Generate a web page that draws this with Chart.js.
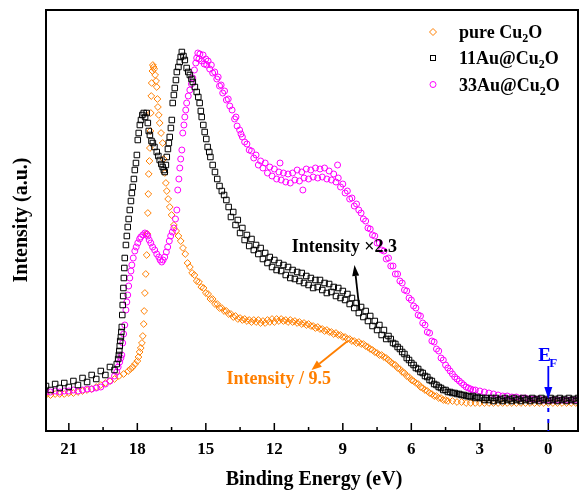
<!DOCTYPE html>
<html lang="en">
<head>
    <meta charset="UTF-8">
    <title>UPS valence band spectra</title>
    <script src="https://cdn.jsdelivr.net/npm/chart.js"></script>
    <style>
        body { margin: 0; background: #fff; overflow: hidden; }
    </style>
</head>
<body>
    <canvas id="upsChart" width="579" height="495"></canvas>
    <script>
        // binding energy (eV), intensity (a.u.)
        const pureCu2O = [
            [22.0,36],[21.8,36],[21.6,37],[21.4,37],[21.2,37],[21.0,38],[20.8,38],[20.6,39],[20.4,40],[20.2,41],
            [20.0,42],[19.8,44],[19.6,46],[19.4,48],[19.2,50],[19.0,52],[18.8,55],[18.6,57],[18.4,60],[18.3,62],
            [18.2,64],[18.1,67],[18.0,70],[17.95,74],[17.9,79],[17.85,83],[17.8,88],[17.76,95],[17.72,107],[17.70,120],
            [17.67,138],[17.63,157],[17.59,176],[17.56,197],[17.54,218],[17.52,237],[17.50,257],[17.47,270],[17.45,283],[17.43,300],
            [17.41,318],[17.39,335],[17.37,348],[17.34,360],[17.32,366],[17.29,364],[17.26,362],[17.22,356],[17.18,350],[17.15,344],
            [17.12,332],[17.10,324],[17.06,316],[17.02,308],[16.96,298],[16.89,288],[16.85,272],[16.80,258],[16.75,248],[16.71,240],
            [16.65,232],[16.58,224],[16.50,216],[16.4,206],[16.3,200],[16.2,195],[16.1,190],
            [16.0,183],[15.9,177],[15.8,168],[15.7,164],[15.6,158],[15.5,156],[15.4,150],[15.3,149],[15.2,144],[15.1,143],
            [15.0,138],[14.9,137],[14.8,132],[14.7,132],[14.6,127],[14.5,127],[14.4,123],[14.3,123],[14.2,120],[14.1,120],
            [14.0,117],[13.9,117],[13.8,114],[13.7,115],[13.6,112],[13.5,113],[13.4,111],[13.3,112],[13.2,110],[13.1,111],
            [13.0,109],[12.9,111],[12.8,109],[12.7,111],[12.6,108],[12.5,110],[12.4,108],[12.3,111],[12.2,109],[12.1,112],
            [12.0,109],[11.9,112],[11.8,110],[11.7,112],[11.6,110],[11.5,111],[11.4,109],[11.3,111],[11.2,109],[11.1,110],
            [11.0,108],[10.9,109],[10.8,107],[10.7,108],[10.6,106],[10.5,107],[10.4,105],[10.3,105],[10.2,103],[10.1,104],
            [10.0,102],[9.9,102],[9.8,100],[9.7,101],[9.6,99],[9.5,99],[9.4,97],[9.3,98],[9.2,96],[9.1,96],
            [9.0,94],[8.9,94],[8.8,92],[8.7,92],[8.6,90],[8.5,90],[8.4,88],[8.3,89],[8.2,87],[8.1,87],
            [8.0,85],[7.9,84],[7.8,82],[7.7,81],[7.6,79],[7.5,78],[7.4,76],[7.3,76],[7.2,74],[7.1,73],
            [7.0,71],[6.9,69],[6.8,67],[6.7,66],[6.6,63],[6.5,62],[6.4,59],[6.3,58],[6.2,55],[6.1,54],
            [6.0,51],[5.9,50],[5.8,48],[5.7,47],[5.6,44],[5.5,43],[5.4,41],[5.3,40],[5.2,38],[5.1,37],
            [5.0,35],[4.9,35],[4.8,33],[4.7,33],[4.6,31],[4.5,31],[4.4,30],[4.2,30],[4.0,29],[3.8,29],
            [3.6,28],[3.4,28],[3.2,28],[3.0,28],[2.8,28],[2.6,28],[2.4,28],[2.2,28],[2.0,28],[1.8,28],
            [1.6,28],[1.4,28],[1.2,28],[1.0,28],[0.8,28],[0.6,28],[0.4,28],[0.2,28],[0.0,28],[-0.2,28],
            [-0.4,28],[-0.6,28],[-0.8,28],[-1.0,28],[-1.2,28]
        ];

        const au11Cu2O = [
            [22.0,45],[21.8,41],[21.6,47],[21.4,43],[21.2,48],[21.0,44],[20.8,50],[20.6,46],[20.4,53],[20.2,49],
            [20.0,56],[19.8,52],[19.6,60],[19.4,56],[19.2,64],[19.0,61],[18.9,67],[18.84,72],[18.81,76],[18.79,80],
            [18.77,85],[18.75,90],[18.72,94],[18.70,99],[18.68,104],[18.66,116],[18.64,126],[18.62,135],[18.61,143],[18.59,153],
            [18.57,163],[18.55,173],[18.50,186],[18.46,195],[18.42,204],[18.38,212],[18.33,221],[18.28,230],[18.24,238],[18.20,244],
            [18.15,252],[18.11,261],[18.06,268],[18.02,276],[17.98,291],[17.94,298],[17.89,306],[17.84,311],[17.78,316],[17.72,318],
            [17.66,314],[17.59,318],[17.54,308],[17.50,300],[17.45,296],[17.38,290],[17.32,288],[17.25,284],[17.15,279],[17.08,275],
            [17.02,271],[16.95,267],[16.89,264],[16.84,261],[16.80,259],[16.75,266],[16.71,274],[16.66,282],[16.62,288],[16.58,294],
            [16.53,303],[16.49,311],[16.45,328],[16.40,336],[16.36,343],[16.31,351],[16.27,359],[16.20,364],[16.14,369],[16.10,374],
            [16.05,379],[15.98,375],[15.92,371],[15.84,363],[15.77,359],[15.70,356],[15.63,352],[15.57,349],[15.48,344],[15.40,339],
            [15.33,334],[15.27,328],[15.22,320],[15.18,314],[15.11,306],[15.05,299],[14.98,292],[14.92,284],[14.85,279],[14.8,274],
            [14.7,266],[14.6,259],[14.5,252],[14.4,245],[14.3,240],[14.2,236],[14.1,231],
            [14.0,224],[13.9,214],[13.8,219],[13.7,206],[13.6,211],[13.5,198],[13.4,203],[13.3,191],[13.2,196],[13.1,185],
            [13.0,192],[12.9,181],[12.8,186],[12.7,177],[12.6,183],[12.5,172],[12.4,178],[12.3,168],[12.2,174],[12.1,164],
            [12.0,171],[11.9,161],[11.8,168],[11.7,160],[11.6,166],[11.5,156],[11.4,164],[11.3,153],[11.2,161],[11.1,152],
            [11.0,159],[10.9,150],[10.8,158],[10.7,148],[10.6,155],[10.5,146],[10.4,153],[10.3,143],[10.2,151],[10.1,144],
            [10.0,151],[9.9,141],[9.8,148],[9.7,138],[9.6,147],[9.5,139],[9.4,144],[9.3,135],[9.2,143],[9.1,133],
            [9.0,140],[8.9,131],[8.8,137],[8.7,127],[8.6,133],[8.5,123],[8.4,128],[8.3,118],[8.2,124],[8.1,114],
            [8.0,120],[7.9,110],[7.8,115],[7.7,105],[7.6,110],[7.5,101],[7.4,106],[7.3,96],[7.2,101],[7.1,92],
            [7.0,95],[6.9,92],[6.8,88],[6.7,87],[6.6,84],[6.5,82],[6.4,79],[6.3,77],[6.2,73],[6.1,71],
            [6.0,68],[5.9,66],[5.8,63],[5.7,62],[5.6,59],[5.5,58],[5.4,55],[5.3,54],[5.2,51],[5.1,50],
            [5.0,47],[4.9,46],[4.8,44],[4.7,43],[4.6,41],[4.5,41],[4.4,39],[4.3,39],[4.2,38],[4.1,38],
            [4.0,37],[3.9,37],[3.8,36],[3.7,36],[3.6,35],[3.5,35],[3.4,34],[3.3,35],[3.2,33],[3.1,34],
            [3.0,33],[2.9,33],[2.8,31],[2.7,33],[2.6,31],[2.5,33],[2.4,30],[2.3,33],[2.2,31],[2.1,32],
            [2.0,30],[1.9,33],[1.8,31],[1.7,32],[1.6,30],[1.5,33],[1.4,31],[1.3,32],[1.2,30],[1.1,33],
            [1.0,31],[0.9,32],[0.8,30],[0.7,33],[0.6,31],[0.5,32],[0.4,30],[0.3,33],[0.2,31],[0.1,32],
            [0.0,30],[-0.1,33],[-0.2,31],[-0.3,32],[-0.4,30],[-0.5,33],[-0.6,31],[-0.7,32],[-0.8,30],[-0.9,33],
            [-1.0,31],[-1.1,32],[-1.2,30],[-1.3,33]
        ];

        const au33Cu2O = [
            [22.0,39],[21.8,39],[21.6,40],[21.4,39],[21.2,40],[21.0,40],[20.8,41],[20.6,40],[20.4,41],[20.2,42],
            [20.0,42],[19.8,43],[19.6,44],[19.4,47],[19.2,50],[19.0,55],[18.9,59],[18.84,64],[18.77,69],[18.72,73],
            [18.68,76],[18.64,88],[18.60,97],[18.55,106],[18.50,121],[18.46,129],[18.42,136],[18.38,145],[18.33,153],[18.28,160],
            [18.24,166],[18.18,173],[18.11,180],[18.05,184],[17.98,188],[17.90,192],[17.85,194],[17.76,196],[17.67,198],[17.60,197],
            [17.54,195],[17.48,191],[17.41,188],[17.33,184],[17.24,181],[17.15,177],[17.06,174],[17.00,171],[16.93,169],[16.87,171],
            [16.80,174],[16.73,179],[16.67,184],[16.60,190],[16.54,195],[16.47,199],[16.40,203],[16.33,212],[16.27,221],[16.23,241],
            [16.18,252],[16.14,263],[16.10,272],[16.05,281],[16.01,298],[15.96,306],[15.92,314],[15.88,321],[15.84,328],[15.77,335],
            [15.70,341],[15.63,347],[15.57,353],[15.50,361],[15.44,368],[15.40,373],[15.35,378],[15.30,372],[15.26,377],[15.18,370],
            [15.12,376],[15.07,367],[15.00,372],[14.96,366],[14.90,370],[14.83,362],[14.76,366],[14.70,358],[14.61,359],[14.52,352],
            [14.46,354],[14.40,345],[14.33,346],[14.26,338],[14.18,340],[14.10,331],[14.02,332],[13.95,325],[13.85,321],[13.74,312],
            [13.68,314],[13.63,305],[13.52,301],[13.46,297],[13.4,294],[13.3,289],[13.2,287],[13.1,281],
            [13.0,280],[12.9,273],[12.8,276],[12.7,266],[12.6,270],[12.5,263],[12.4,268],[12.3,258],[12.2,264],[12.1,255],
            [12.0,262],[11.9,252],[11.8,259],[11.75,268],[11.7,251],[11.6,258],[11.5,249],[11.4,257],[11.3,248],[11.2,258],
            [11.1,251],[11.0,261],[10.9,250],[10.8,259],[10.75,241],[10.7,253],[10.6,262],[10.5,252],[10.4,261],[10.3,254],
            [10.2,263],[10.1,253],[10.0,262],[9.9,254],[9.8,263],[9.7,252],[9.6,260],[9.5,251],[9.4,257],[9.3,249],
            [9.23,266],[9.2,253],[9.1,244],[9.0,247],[8.9,238],[8.8,240],[8.7,232],[8.6,233],[8.5,225],[8.4,227],
            [8.3,221],[8.2,218],[8.1,212],
            [8.0,210],[7.9,203],[7.8,202],[7.7,196],[7.6,195],[7.5,188],[7.4,188],[7.3,181],[7.2,180],[7.1,172],
            [7.0,173],[6.9,165],[6.8,165],[6.7,157],[6.6,157],[6.5,150],[6.4,148],[6.3,141],[6.2,140],[6.1,133],
            [6.0,131],[5.9,125],[5.8,123],[5.7,116],[5.6,115],[5.5,108],[5.4,106],[5.3,99],[5.2,98],[5.1,90],
            [5.0,89],[4.9,82],[4.8,80],[4.7,73],[4.6,71],[4.5,66],[4.4,63],[4.3,60],[4.2,57],[4.1,54],
            [4.0,52],[3.9,50],[3.8,48],[3.7,46],[3.6,44],[3.5,43],[3.4,42],[3.3,41],[3.2,41],[3.0,40],
            [2.8,39],[2.6,38],[2.4,37],[2.2,36],[2.0,35],[1.8,35],[1.6,34],[1.4,34],[1.2,33],[1.0,33],
            [0.8,32],[0.6,32],[0.4,32],[0.2,31],[0.0,31],[-0.2,31],[-0.4,31],[-0.6,31],[-0.8,31],[-1.0,31],
            [-1.2,31]
        ];

        const xTickValues = [21, 18, 15, 12, 9, 6, 3, 0];
        const xMinorTicks = [19.5, 16.5, 13.5, 10.5, 7.5, 4.5, 1.5];

        const serif = "'Liberation Serif', 'Times New Roman', serif";
        const ORANGE = '#ff7f00', MAGENTA = '#ff00ff', BLUE = '#0000ff';

        function toPoints(arr) {
            return arr.map(p => ({ x: p[0], y: p[1] }));
        }

        function arrow(ctx, x1, y1, x2, y2, color, len, half, lw) {
            const ang = Math.atan2(y2 - y1, x2 - x1);
            const bx = x2 - len * Math.cos(ang), by = y2 - len * Math.sin(ang);
            ctx.strokeStyle = color; ctx.fillStyle = color; ctx.lineWidth = lw;
            ctx.beginPath(); ctx.moveTo(x1, y1); ctx.lineTo(bx, by); ctx.stroke();
            ctx.beginPath();
            ctx.moveTo(x2, y2);
            ctx.lineTo(bx + half * Math.sin(ang), by - half * Math.cos(ang));
            ctx.lineTo(bx - half * Math.sin(ang), by + half * Math.cos(ang));
            ctx.closePath(); ctx.fill();
        }

        // text with a subscript "2" in Cu2O
        function cuText(ctx, prefix, x, y, size) {
            ctx.font = 'bold ' + size + 'px ' + serif;
            ctx.fillText(prefix + 'Cu', x, y);
            let w = ctx.measureText(prefix + 'Cu').width;
            ctx.font = 'bold ' + Math.round(size * 0.65) + 'px ' + serif;
            ctx.fillText('2', x + w, y + 4);
            w += ctx.measureText('2').width;
            ctx.font = 'bold ' + size + 'px ' + serif;
            ctx.fillText('O', x + w, y);
        }

        const decor = {
            id: 'decor',
            afterDraw(chart) {
                const { ctx, chartArea: a, scales: { x, y } } = chart;
                const px = v => x.getPixelForValue(v), py = v => y.getPixelForValue(v);
                ctx.save();

                // frame and inward ticks
                ctx.strokeStyle = '#000';
                ctx.lineWidth = 2;
                ctx.strokeRect(a.left, a.top, a.right - a.left, a.bottom - a.top);
                ctx.lineWidth = 1.5;
                ctx.beginPath();
                xTickValues.forEach(v => { ctx.moveTo(px(v), a.bottom); ctx.lineTo(px(v), a.bottom - 8); });
                xMinorTicks.forEach(v => { ctx.moveTo(px(v), a.bottom); ctx.lineTo(px(v), a.bottom - 4); });
                ctx.stroke();

                // axis titles
                ctx.fillStyle = '#000';
                ctx.font = 'bold 20px ' + serif;
                ctx.textAlign = 'center';
                ctx.textBaseline = 'middle';
                ctx.fillText('Binding Energy (eV)', 314, 480);
                ctx.save();
                ctx.translate(22, 220);
                ctx.rotate(-Math.PI / 2);
                ctx.fillText('Intensity (a.u.)', 0, 0);
                ctx.restore();

                // legend
                ctx.textAlign = 'left';
                ctx.textBaseline = 'alphabetic';
                ctx.lineWidth = 1;
                ctx.strokeStyle = ORANGE;
                ctx.beginPath();
                ctx.moveTo(433, 28.5); ctx.lineTo(436.5, 32); ctx.lineTo(433, 35.5); ctx.lineTo(429.5, 32); ctx.closePath();
                ctx.stroke();
                ctx.strokeStyle = '#000';
                ctx.strokeRect(430.5, 55.5, 5, 5);
                ctx.strokeStyle = MAGENTA;
                ctx.beginPath(); ctx.arc(433, 84.5, 3, 0, Math.PI * 2); ctx.stroke();
                ctx.fillStyle = '#000';
                cuText(ctx, 'pure ', 459, 38, 18);
                cuText(ctx, '11Au@', 459, 64, 18);
                cuText(ctx, '33Au@', 459, 90.5, 18);

                // scaling notes
                ctx.font = 'bold 18px ' + serif;
                ctx.fillStyle = '#000';
                ctx.fillText('Intensity \u00d72.3', px(11.24), py(179));
                arrow(ctx, px(8.27), py(121), px(8.49), py(166), '#000', 11, 3.5, 1.8);
                ctx.fillStyle = ORANGE;
                ctx.font = 'bold 18px ' + serif;
                ctx.fillText('Intensity / 9.5', px(14.09), py(47));
                arrow(ctx, px(8.79), py(90), px(10.37), py(61), ORANGE, 10, 4, 1.8);

                // Fermi level
                ctx.fillStyle = BLUE;
                ctx.font = 'bold 19px ' + serif;
                ctx.fillText('E', px(0.44), py(70));
                ctx.font = 'bold 13px ' + serif;
                ctx.fillText('F', px(-0.04), py(64));
                arrow(ctx, px(0), py(65), px(0), py(32), BLUE, 12, 4, 1.8);
                ctx.strokeStyle = BLUE;
                ctx.lineWidth = 2;
                ctx.setLineDash([4, 7]);
                ctx.beginPath(); ctx.moveTo(px(0), py(23)); ctx.lineTo(px(0), py(0)); ctx.stroke();
                ctx.restore();
            }
        };

        const ctx = document.getElementById('upsChart').getContext('2d');
        const upsChart = new Chart(ctx, {
            type: 'scatter',
            data: {
                datasets: [
                    {
                        label: '11Au@Cu2O',
                        data: toPoints(au11Cu2O),
                        pointStyle: 'rect',
                        pointRadius: 3.9,
                        borderColor: '#000',
                        backgroundColor: 'rgba(0,0,0,0)',
                        pointBorderWidth: 1,
                        order: 0
                    },
                    {
                        label: '33Au@Cu2O',
                        data: toPoints(au33Cu2O),
                        pointStyle: 'circle',
                        pointRadius: 3,
                        borderColor: MAGENTA,
                        backgroundColor: 'rgba(0,0,0,0)',
                        pointBorderWidth: 1,
                        order: 1
                    },
                    {
                        label: 'pure Cu2O',
                        data: toPoints(pureCu2O),
                        pointStyle: 'rectRot',
                        pointRadius: 3.4,
                        borderColor: ORANGE,
                        backgroundColor: 'rgba(0,0,0,0)',
                        pointBorderWidth: 1,
                        order: 2
                    }
                ]
            },
            options: {
                responsive: false,
                animation: false,
                devicePixelRatio: 1,
                layout: { autoPadding: false, padding: { left: 46, top: 10, right: 1, bottom: 0 } },
                plugins: { legend: { display: false }, tooltip: { enabled: false } },
                scales: {
                    x: {
                        type: 'linear',
                        reverse: true,
                        min: -1.3,
                        max: 22,
                        afterBuildTicks: scale => { scale.ticks = xTickValues.map(v => ({ value: v })); },
                        afterFit: scale => {
                            scale.height = 64;
                            scale.paddingLeft = 0;
                            scale.paddingRight = 0;
                        },
                        grid: { display: false, drawTicks: false },
                        border: { display: false },
                        ticks: {
                            color: '#000',
                            padding: 8,
                            maxRotation: 0,
                            font: { family: serif, size: 17, weight: 'bold' },
                            callback: v => String(v)
                        }
                    },
                    y: { min: 0, max: 421, display: false }
                }
            },
            plugins: [decor]
        });
    </script>
</body>
</html>
